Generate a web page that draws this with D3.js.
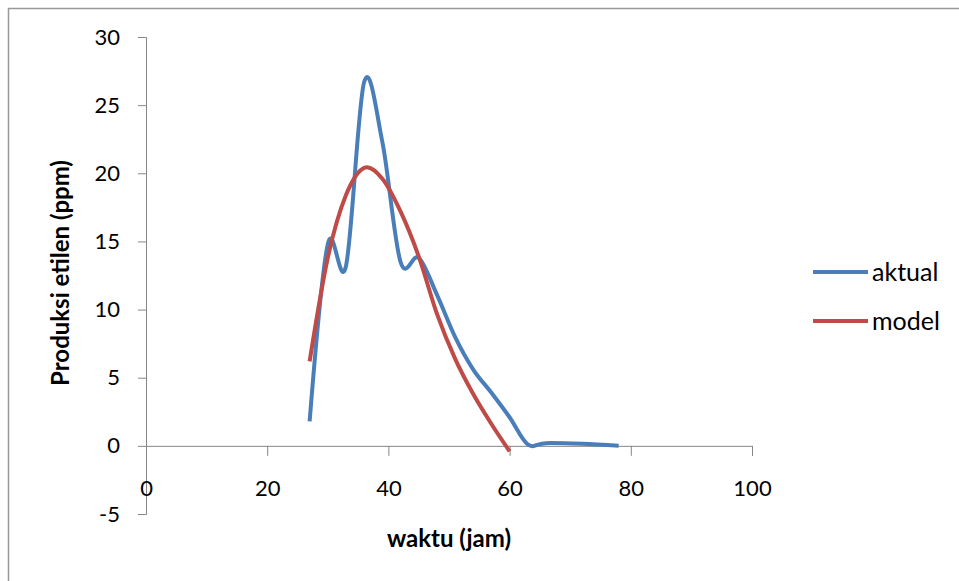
<!DOCTYPE html>
<html>
<head>
<meta charset="utf-8">
<script src="https://cdn.jsdelivr.net/npm/d3@7"></script>
<style>
  body { margin: 0; background: #fff; }
  text { font-family: Lato, "Open Sans", sans-serif; fill: #000; }
</style>
</head>
<body>
<div id="chart"></div>
<script>
// waktu (jam) vs produksi etilen (ppm)
var aktualX = [27, 30, 33, 36, 39, 42, 45, 48, 51, 54, 57, 60, 63, 66, 72, 78];
var aktualY = [1.8, 14.8, 13.2, 26.7, 22.3, 13.5, 13.8, 11.1, 8.0, 5.6, 3.9, 2.1, 0.1, 0.2, 0.15, 0];
var modelX = [27, 30, 33, 36, 39, 42, 45, 48, 51, 54, 57, 60];
var modelY = [6.2, 13.8, 18.4, 20.4, 19.6, 17.2, 13.9, 9.7, 6.4, 3.8, 1.6, -0.4];
var seriesNames = ["aktual", "model"];
var seriesColors = ["#4a7ebb", "#be4b48"];
var xTicks = [0, 20, 40, 60, 80, 100];
var yTicks = [-5, 0, 5, 10, 15, 20, 25, 30];

var width = 959, height = 581;
var svg = d3.select("#chart").append("svg")
  .attr("width", width).attr("height", height);

// outer frame
svg.append("rect")
  .attr("x", 8.5).attr("y", 8.5)
  .attr("width", 1000).attr("height", 1000)
  .attr("fill", "none").attr("stroke", "#999").attr("stroke-width", 1.5);

var x = d3.scaleLinear().domain([0, 100]).range([146, 752]);
var y = d3.scaleLinear().domain([-5, 30]).range([514, 37]);

// y axis
var yAxis = svg.append("g")
  .attr("transform", "translate(" + x(0) + ",0)")
  .call(d3.axisLeft(y).tickValues(yTicks).tickSize(8).tickPadding(18)
    .tickFormat(function(d) { return String(d); }));
yAxis.select(".domain").attr("stroke", "#868686");
yAxis.selectAll(".tick line").attr("stroke", "#868686");
yAxis.selectAll(".tick text").attr("font-size", 22).style("font-family", "Lato, sans-serif");

// x axis at y = 0
var xAxis = svg.append("g")
  .attr("transform", "translate(0," + y(0) + ")")
  .call(d3.axisBottom(x).tickValues(xTicks).tickSize(10).tickPadding(25)
    .tickFormat(function(d) { return String(d); }));
xAxis.select(".domain").attr("stroke", "#868686");
xAxis.selectAll(".tick line").attr("stroke", "#868686");
xAxis.selectAll(".tick text").attr("font-size", 22).style("font-family", "Lato, sans-serif");

// axis titles
svg.append("text")
  .attr("transform", "translate(69," + 273 + ") rotate(-90)")
  .attr("text-anchor", "middle")
  .attr("font-size", 24).attr("font-weight", "bold")
  .text("Produksi etilen (ppm)");
svg.append("text")
  .attr("x", 449).attr("y", 547)
  .attr("text-anchor", "middle")
  .attr("font-size", 24).attr("font-weight", "bold")
  .text("waktu (jam)");

var line = d3.line()
  .x(function(d) { return x(d[0]); })
  .y(function(d) { return y(d[1]); })
  .curve(d3.curveCatmullRom.alpha(0));

var series = [d3.zip(aktualX, aktualY), d3.zip(modelX, modelY)];

svg.selectAll("path.series")
  .data(series)
  .enter()
  .append("path")
  .attr("class", "series")
  .attr("d", line)
  .attr("fill", "none")
  .attr("stroke", function(d, i) { return seriesColors[i]; })
  .attr("stroke-width", 4)
  .attr("stroke-linejoin", "round");

// legend
var legend = svg.selectAll("g.legend")
  .data(seriesNames)
  .enter()
  .append("g")
  .attr("class", "legend")
  .attr("transform", function(d, i) { return "translate(813," + (272 + i * 49) + ")"; });
legend.append("line")
  .attr("x1", 0).attr("x2", 55)
  .attr("stroke", function(d, i) { return seriesColors[i]; })
  .attr("stroke-width", 4);
legend.append("text")
  .attr("x", 59).attr("y", 9)
  .attr("font-size", 25)
  .text(function(d) { return d; });
</script>
</body>
</html>
